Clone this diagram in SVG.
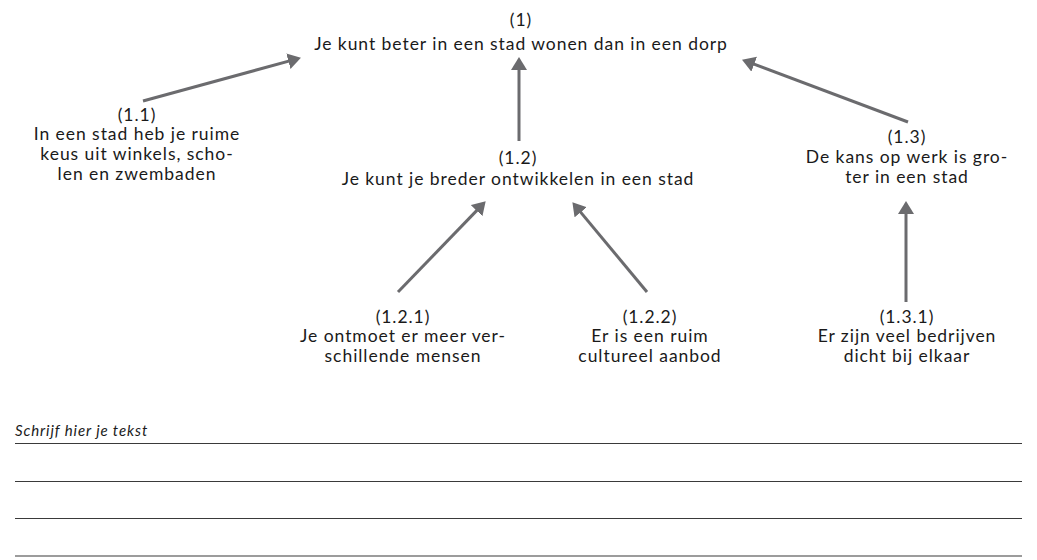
<svg xmlns="http://www.w3.org/2000/svg" width="1037" height="560" viewBox="0 0 1037 560">
<style>
.t{font-family:Lato,"Open Sans","Liberation Sans",sans-serif;font-size:17.5px;letter-spacing:0.95px;fill:#1a1a1a;text-anchor:middle}
.c{stroke:#6b6b6e;stroke-width:3;fill:none}
.r{stroke:#3a3a3a;stroke-width:1.2}
.w{font-family:Lato,"Open Sans","Liberation Sans",sans-serif;font-size:15px;letter-spacing:0.9px;font-style:italic;fill:#1a1a1a}
</style>
<defs>
<marker id="ah" markerUnits="userSpaceOnUse" markerWidth="14" markerHeight="18" refX="8" refY="8" orient="auto">
<path d="M0,0 L13,8 L0,16 z" fill="#6b6b6e"/>
</marker>
</defs>
<g id="connectors">
<line class="c" x1="143" y1="101" x2="296.1" y2="59.1" marker-end="url(#ah)"/>
<line class="c" x1="519" y1="141" x2="519" y2="62" marker-end="url(#ah)"/>
<line class="c" x1="398" y1="292" x2="482.2" y2="204.9" marker-end="url(#ah)"/>
<line class="c" x1="647" y1="292" x2="575.6" y2="206.1" marker-end="url(#ah)"/>
<line class="c" x1="908" y1="122" x2="746.7" y2="61.4" marker-end="url(#ah)"/>
<line class="c" x1="906" y1="302" x2="906" y2="206" marker-end="url(#ah)"/>
</g>
<g id="n1"><text class="t"><tspan x="521" y="26">(1)</tspan><tspan x="521" y="50">Je kunt beter in een stad wonen dan in een dorp</tspan></text></g>
<g id="n1_1"><text class="t"><tspan x="137" y="121">(1.1)</tspan><tspan x="137" y="140">In een stad heb je ruime</tspan><tspan x="137" y="160">keus uit winkels, scho-</tspan><tspan x="137" y="180">len en zwembaden</tspan></text></g>
<g id="n1_2"><text class="t"><tspan x="518" y="164">(1.2)</tspan><tspan x="518" y="185">Je kunt je breder ontwikkelen in een stad</tspan></text></g>
<g id="n1_3"><text class="t"><tspan x="907" y="143">(1.3)</tspan><tspan x="907" y="163">De kans op werk is gro-</tspan><tspan x="907" y="183">ter in een stad</tspan></text></g>
<g id="n1_2_1"><text class="t"><tspan x="403" y="323">(1.2.1)</tspan><tspan x="403" y="342">Je ontmoet er meer ver-</tspan><tspan x="403" y="362">schillende mensen</tspan></text></g>
<g id="n1_2_2"><text class="t"><tspan x="650" y="323">(1.2.2)</tspan><tspan x="650" y="342">Er is een ruim</tspan><tspan x="650" y="362">cultureel aanbod</tspan></text></g>
<g id="n1_3_1"><text class="t"><tspan x="907" y="323">(1.3.1)</tspan><tspan x="907" y="342">Er zijn veel bedrijven</tspan><tspan x="907" y="362">dicht bij elkaar</tspan></text></g>
<g id="writing">
<text class="w" x="15" y="436">Schrijf hier je tekst</text>
<line class="r" x1="15" y1="443.5" x2="1022" y2="443.5"/>
<line class="r" x1="15" y1="481.5" x2="1022" y2="481.5"/>
<line class="r" x1="15" y1="518.5" x2="1022" y2="518.5"/>
<line class="r" x1="15" y1="556" x2="1022" y2="556"/>
</g>
</svg>
